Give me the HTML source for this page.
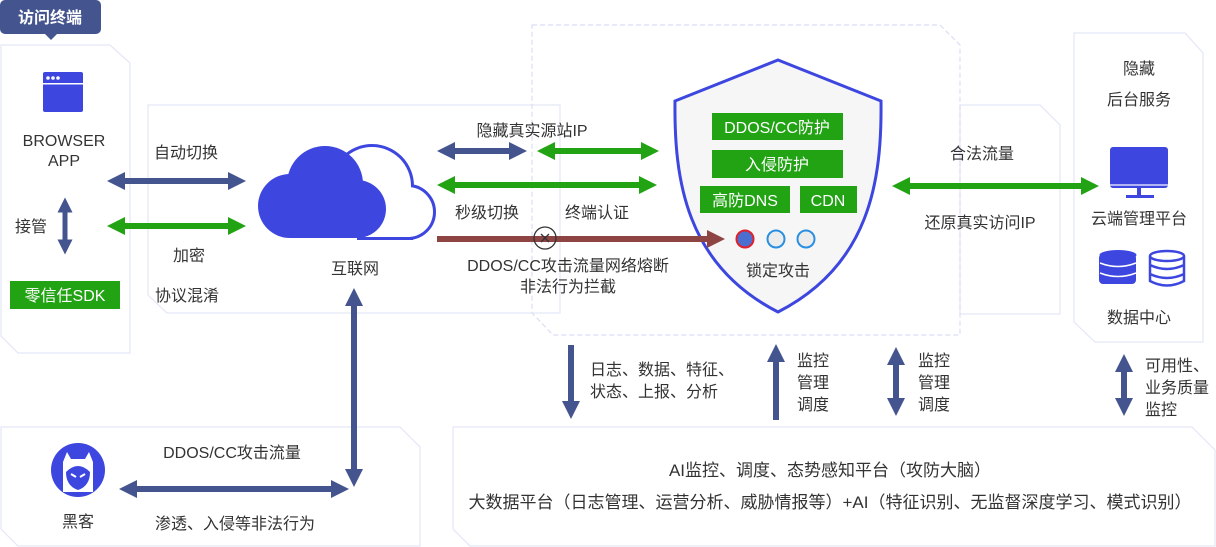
<!DOCTYPE html>
<html><head><meta charset="utf-8"><style>
html,body{margin:0;padding:0;background:#fff;}
svg{display:block;font-family:"Liberation Sans","Noto Sans CJK SC",sans-serif;}
text{fill:#333;font-size:15px;}
</style></head><body>
<svg width="1216" height="547" viewBox="0 0 1216 547" xmlns="http://www.w3.org/2000/svg">
<defs>
<marker id="hb" viewBox="0 0 10 10" refX="5" refY="5" markerWidth="3" markerHeight="3" orient="auto-start-reverse"><path d="M0,0L10,5L0,10z" fill="#44548f"/></marker>
<marker id="hg" viewBox="0 0 10 10" refX="5" refY="5" markerWidth="3" markerHeight="3" orient="auto-start-reverse"><path d="M0,0L10,5L0,10z" fill="#22a314"/></marker>
<marker id="hr" viewBox="0 0 10 10" refX="5" refY="5" markerWidth="3" markerHeight="3" orient="auto-start-reverse"><path d="M0,0L10,5L0,10z" fill="#8f4444"/></marker>
</defs>
<g fill="none" stroke="#e3e7f7" stroke-width="1.2">
<path d="M1,45H110L130,63V353H18L1,336Z"/>
<path d="M148,105H560V313H167L148,295Z"/>
<path d="M960,105H1040L1060,125V314H960Z"/>
<path d="M1074,33H1185L1203,53V342H1095L1074,322Z"/>
<path d="M1,427H400L420,447V546H18L1,529Z"/>
<path d="M453,427H1192L1215,450V546H470L453,529Z"/>
</g>
<path d="M532,25H940L960,45V335H553L532,313Z" fill="none" stroke="#d9def5" stroke-width="1.2" stroke-dasharray="5,3"/>
<rect x="0" y="0" width="101" height="34" rx="5" fill="#44548f"/>
<path d="M45,34L51,40L57,34Z" fill="#44548f"/>
<text x="50" y="23" text-anchor="middle" style="fill:#fff;font-weight:bold;font-size:16px">访问终端</text>
<rect x="43" y="72" width="40" height="40" rx="2" fill="#3d47e0"/>
<rect x="43" y="83" width="40" height="1.5" fill="#fff"/>
<circle cx="48" cy="78" r="1.8" fill="#fff"/><circle cx="53" cy="78" r="1.8" fill="#fff"/><circle cx="58" cy="78" r="1.8" fill="#fff"/>
<text x="64" y="146" text-anchor="middle" style="font-size:16px">BROWSER</text>
<text x="64" y="166" text-anchor="middle" style="font-size:16px">APP</text>
<line x1="65" y1="205" x2="65" y2="247" stroke="#44548f" stroke-width="5" marker-start="url(#hb)" marker-end="url(#hb)"/>
<text x="15" y="232" style="font-size:16px">接管</text>
<rect x="10" y="281" width="110" height="28" fill="#22a314"/>
<text x="65" y="301" text-anchor="middle" style="fill:#fff;font-size:16px">零信任SDK</text>
<line x1="116" y1="181" x2="237" y2="181" stroke="#44548f" stroke-width="6" marker-start="url(#hb)" marker-end="url(#hb)"/>
<line x1="116" y1="226" x2="237" y2="226" stroke="#22a314" stroke-width="6" marker-start="url(#hg)" marker-end="url(#hg)"/>
<text x="154" y="158" style="font-size:16px">自动切换</text>
<text x="173" y="261" style="font-size:16px">加密</text>
<text x="155" y="301" style="font-size:16px">协议混淆</text>
<g stroke="#3d47e0" stroke-width="6" fill="#3d47e0">
<circle cx="372" cy="186" r="39"/>
<circle cx="408" cy="212" r="25"/>
<rect x="360" y="205" width="50" height="32"/>
</g>
<g fill="#fff">
<circle cx="372" cy="186" r="39"/>
<circle cx="408" cy="212" r="25"/>
<rect x="360" y="205" width="50" height="32"/>
</g>
<g fill="#3d47e0">
<circle cx="290" cy="206" r="32"/>
<circle cx="325" cy="184" r="38"/>
<circle cx="357" cy="209" r="29"/>
<rect x="290" y="200" width="67" height="38"/>
</g>
<text x="355" y="274" text-anchor="middle" style="font-size:16px">互联网</text>
<line x1="354" y1="297" x2="354" y2="478" stroke="#44548f" stroke-width="6" marker-start="url(#hb)" marker-end="url(#hb)"/>
<text x="532" y="136" text-anchor="middle" style="font-size:16px">隐藏真实源站IP</text>
<line x1="446" y1="151" x2="518" y2="151" stroke="#44548f" stroke-width="6" marker-start="url(#hb)" marker-end="url(#hb)"/>
<line x1="546" y1="151" x2="650" y2="151" stroke="#22a314" stroke-width="6" marker-start="url(#hg)" marker-end="url(#hg)"/>
<line x1="446" y1="185" x2="648" y2="185" stroke="#22a314" stroke-width="6" marker-start="url(#hg)" marker-end="url(#hg)"/>
<text x="455" y="218" style="font-size:16px">秒级切换</text>
<text x="565" y="218" style="font-size:16px">终端认证</text>
<text x="568" y="271" text-anchor="middle" style="font-size:16px">DDOS/CC攻击流量网络熔断</text>
<text x="568" y="292" text-anchor="middle" style="font-size:16px">非法行为拦截</text>
<path d="M778,60 L881,101 C882,180 870,265 778,312 C686,265 674,180 675,101 Z" fill="#f6f6f6" stroke="#3d47e0" stroke-width="3"/>
<line x1="437" y1="239" x2="716" y2="239" stroke="#8f4444" stroke-width="6" marker-end="url(#hr)"/>
<circle cx="545" cy="238" r="11" fill="none" stroke="#333" stroke-width="1.3"/>
<path d="M541,234L549,242M549,234L541,242" stroke="#333" stroke-width="1.3"/>
<rect x="712" y="113" width="131" height="27" fill="#22a314"/>
<text x="777" y="133" text-anchor="middle" style="fill:#fff;font-size:16px">DDOS/CC防护</text>
<rect x="712" y="150" width="131" height="28" fill="#22a314"/>
<text x="777" y="170" text-anchor="middle" style="fill:#fff;font-size:16px">入侵防护</text>
<rect x="700" y="186" width="90" height="27" fill="#22a314"/>
<text x="745" y="206" text-anchor="middle" style="fill:#fff;font-size:16px">高防DNS</text>
<rect x="800" y="186" width="57" height="27" fill="#22a314"/>
<text x="828" y="206" text-anchor="middle" style="fill:#fff;font-size:16px">CDN</text>
<circle cx="745" cy="239" r="8.5" fill="#4a6fd0" stroke="#e0202a" stroke-width="2"/>
<circle cx="776" cy="239" r="8.5" fill="#ececec" stroke="#2a8fe0" stroke-width="2"/>
<circle cx="806" cy="239" r="8.5" fill="#ececec" stroke="#2a8fe0" stroke-width="2"/>
<text x="778" y="276" text-anchor="middle" style="font-size:16px">锁定攻击</text>
<text x="982" y="159" text-anchor="middle" style="font-size:16px">合法流量</text>
<line x1="901" y1="186" x2="1090" y2="186" stroke="#22a314" stroke-width="6" marker-start="url(#hg)" marker-end="url(#hg)"/>
<text x="980" y="228" text-anchor="middle" style="font-size:16px">还原真实访问IP</text>
<text x="1139" y="74" text-anchor="middle" style="font-size:16px">隐藏</text>
<text x="1139" y="105" text-anchor="middle" style="font-size:16px">后台服务</text>
<rect x="1110" y="147" width="58" height="41" rx="3" fill="#3d47e0"/>
<rect x="1110" y="184" width="58" height="2" fill="#fff" opacity=".6"/>
<rect x="1137" y="188" width="4" height="8" fill="#3d47e0"/>
<rect x="1126" y="195" width="28" height="3" fill="#3d47e0"/>
<text x="1139" y="224" text-anchor="middle" style="font-size:16px">云端管理平台</text>
<g>
<rect x="1099" y="254" width="37" height="30" rx="4" fill="#3d47e0"/>
<ellipse cx="1118" cy="255" rx="18.5" ry="5" fill="#3d47e0"/>
<path d="M1100,263Q1118,270 1136,263M1100,273Q1118,280 1136,273" stroke="#fff" stroke-width="1.5" fill="none"/>
</g>
<g fill="none" stroke="#3d47e0" stroke-width="2.5">
<ellipse cx="1167" cy="256" rx="17" ry="5"/>
<path d="M1150,256V281Q1167,290 1184,281V256M1150,265Q1167,273 1184,265M1150,274Q1167,282 1184,274"/>
</g>
<text x="1139" y="323" text-anchor="middle" style="font-size:16px">数据中心</text>
<line x1="571" y1="345" x2="571" y2="410" stroke="#44548f" stroke-width="6" marker-end="url(#hb)"/>
<text x="590" y="375" style="font-size:16px">日志、数据、特征、</text>
<text x="590" y="397" style="font-size:16px">状态、上报、分析</text>
<line x1="776" y1="420" x2="776" y2="353" stroke="#44548f" stroke-width="6" marker-end="url(#hb)"/>
<text x="797" y="366" style="font-size:16px">监控</text><text x="797" y="388" style="font-size:16px">管理</text><text x="797" y="410" style="font-size:16px">调度</text>
<line x1="896" y1="356" x2="896" y2="407" stroke="#44548f" stroke-width="6" marker-start="url(#hb)" marker-end="url(#hb)"/>
<text x="918" y="366" style="font-size:16px">监控</text><text x="918" y="388" style="font-size:16px">管理</text><text x="918" y="410" style="font-size:16px">调度</text>
<line x1="1124" y1="363" x2="1124" y2="407" stroke="#44548f" stroke-width="6" marker-start="url(#hb)" marker-end="url(#hb)"/>
<text x="1145" y="371" style="font-size:16px">可用性、</text><text x="1145" y="393" style="font-size:16px">业务质量</text><text x="1145" y="415" style="font-size:16px">监控</text>
<circle cx="78" cy="470" r="27" fill="#3d47e0"/>
<path d="M63,492V462L67,452L71,459H85L89,452L93,462V492Z" fill="#fff"/>
<path d="M66,472Q78,460 90,472Q90,486 78,490Q66,486 66,472Z" fill="#3d47e0"/>
<path d="M71,474L76,477M85,474L80,477" stroke="#fff" stroke-width="2"/>
<text x="78" y="527" text-anchor="middle" style="font-size:16px">黑客</text>
<text x="232" y="458" text-anchor="middle" style="font-size:16px">DDOS/CC攻击流量</text>
<line x1="128" y1="489" x2="340" y2="489" stroke="#44548f" stroke-width="6" marker-start="url(#hb)" marker-end="url(#hb)"/>
<text x="235" y="529" text-anchor="middle" style="font-size:16px">渗透、入侵等非法行为</text>
<text x="830" y="476" text-anchor="middle" style="font-size:17px">AI监控、调度、态势感知平台（攻防大脑）</text>
<text x="830" y="508" text-anchor="middle" style="font-size:17px">大数据平台（日志管理、运营分析、威胁情报等）+AI（特征识别、无监督深度学习、模式识别）</text>
</svg>
</body></html>
